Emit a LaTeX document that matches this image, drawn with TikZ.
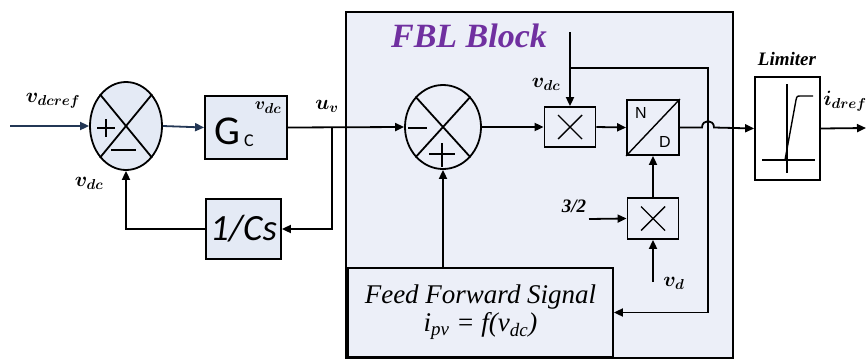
\documentclass[tikz,border=0pt]{standalone}
\usepackage{fontspec}
\usetikzlibrary{shapes.geometric,arrows.meta,calc}
\newfontfamily\libserif{Liberation Serif}
\newfontfamily\carl{Carlito}
\newfontfamily\arialf{Liberation Sans}
\definecolor{boxfill}{RGB}{228,234,245}
\definecolor{fblfill}{RGB}{236,239,248}
\definecolor{navy}{RGB}{35,55,85}
\definecolor{fblpurple}{RGB}{112,48,160}
\newcommand\mysub[1]{\mbox{\fontsize{15}{15}\selectfont\boldmath$#1$}}
\begin{document}
\begin{tikzpicture}[x=1pt,y=-1pt,
  ln/.style={line width=1.8pt},
  arr/.style={line width=1.8pt,-{Triangle[length=9pt,width=8pt]}},
  arrn/.style={arr,draw=navy,-{Triangle[length=9pt,width=8pt,fill=navy]}},
  blk/.style={draw,line width=1.8pt,fill=boxfill,inner sep=0pt},
  sumn/.style={ellipse,draw,line width=1.8pt,inner sep=0pt},
  lab/.style={font=\fontsize{21}{22}\selectfont\boldmath},
  sgn/.style={line width=1.8pt}
]
\useasboundingbox (0,0) rectangle (867,362);
\fill[white] (0,0) rectangle (867,362);
% FBL block
\node[draw,line width=1.8pt,fill=fblfill,minimum width=387pt,minimum height=346pt,inner sep=0pt] (fbl) at (539.5,185) {};
\node[text=fblpurple,font=\libserif\bfseries\itshape\fontsize{34}{36}\selectfont] (title) at (469,36) {FBL Block};
% summing junctions
\node[sumn,fill=boxfill,minimum width=72pt,minimum height=88pt] (s1) at (126,126) {};
\draw[ln] (s1.north east) -- (s1.south west) (s1.north west) -- (s1.south east);
\draw[sgn] (97,128) -- (115,128) (106,119) -- (106,137);
\draw[sgn] (111,150) -- (136,150);
\node[sumn,fill=fblfill,minimum width=76pt,minimum height=84pt] (s2) at (443,127) {};
\draw[ln] (s2.north east) -- (s2.south west) (s2.north west) -- (s2.south east);
\draw[sgn] (408,128) -- (427,128);
\draw[sgn] (429,154) -- (455,154) (442,143) -- (442,167);
% blocks
\node[blk,minimum width=82pt,minimum height=63pt] (gc) at (246,127.5) {};
\node[font=\carl\fontsize{41}{41}\selectfont] (gtxt) at (227,131) {G};
\node[font=\carl\fontsize{18}{18}\selectfont] (gsub) at (249,141) {C};
\node[font=\fontsize{19}{19}\selectfont\boldmath] (gsup) at (268,108) {$v_{\mbox{\fontsize{14}{14}\selectfont\boldmath$dc$}}$};
\node[blk,minimum width=75pt,minimum height=60pt,font=\carl\itshape\fontsize{37}{37}\selectfont] (cs) at (243.5,229) {1/Cs};
\node[draw,line width=1.8pt,fill=fblfill,minimum width=51pt,minimum height=40pt] (m1) at (570,127) {};
\draw[line width=1.4pt] ($(m1.center)+(-12,-12)$) -- ($(m1.center)+(12,12)$) ($(m1.center)+(-12,12)$) -- ($(m1.center)+(12,-12)$);
\node[draw,line width=1.8pt,fill=fblfill,minimum width=52pt,minimum height=55pt] (nd) at (653,127.5) {};
\draw[line width=1.4pt] (nd.south west) -- (nd.north east);
\node[font=\arialf\fontsize{16}{16}\selectfont] (ntx) at (641,113) {N};
\node[font=\arialf\fontsize{16}{16}\selectfont] (dtx) at (665,142) {D};
\node[draw,line width=1.8pt,fill=fblfill,minimum width=51pt,minimum height=41pt] (m2) at (653,218.5) {};
\draw[line width=1.4pt] ($(m2.center)+(-12,-12)$) -- ($(m2.center)+(12,12)$) ($(m2.center)+(-12,12)$) -- ($(m2.center)+(12,-12)$);
\node[draw,line width=1.8pt,fill=white,minimum width=65pt,minimum height=103pt] (lim) at (787.5,128.5) {};
\draw[line width=1.4pt] (787,84) -- (787,173) (762,160) -- (815,160);
\draw[line width=1.4pt] (785,160) -- (796,100) .. controls (797,96) .. (801,96) -- (813,96);
\node[font=\libserif\bfseries\itshape\fontsize{19}{19}\selectfont] (limt) at (787,59) {Limiter};
\node[blk,fill=fblfill,minimum width=265pt,minimum height=89pt,align=center,font=\libserif\itshape\fontsize{27}{29}\selectfont] (ff) at (480.5,312.5) {Feed Forward Signal\\[-1pt] i\textsubscript{\fontsize{19}{19}\selectfont pv} = f(v\textsubscript{\fontsize{19}{19}\selectfont dc})};
% labels
\node[lab] (lref) at (53,101) {$v_{\mysub{dcref}}$};
\node[lab] (lvdc1) at (89,183) {$v_{\mysub{dc}}$};
\node[lab] (luv) at (327,106) {$u_{\mysub{v}}$};
\node[lab] (lvdc2) at (546,84) {$v_{\mysub{dc}}$};
\node[lab] (lid) at (845,101) {$i_{\mysub{dref}}$};
\node[lab] (lvd) at (674,283) {$v_{\mysub{d}}$};
\node[font=\libserif\bfseries\itshape\fontsize{19}{19}\selectfont] (l32) at (574,206) {3/2};
% coordinates
\coordinate (inp) at (10,126);
\coordinate (tap) at (332,127.5);
\coordinate (vdctop) at (570,32);
\coordinate (br) at (570,68);
\coordinate (cr) at (708,312.5);
\coordinate (three) at (589,219);
\coordinate (vdb) at (653,282);
\coordinate (outp) at (866,128);
% connectors
\draw[arrn] (inp) -- (s1.west);
\draw[arrn] (s1.east) -- (gc.west);
\draw[arr] (gc.east) -- (s2.west);
\draw[arr] (tap) |- (cs.east);
\draw[arr] (cs.west) -| (s1.south);
\draw[arr] (s2.south |- ff.north) -- (s2.south);
\draw[arr] (s2.east) -- (m1.west);
\draw[arr] (vdctop) -- (m1.north);
\draw[arr] (br) -| (cr) -- (ff.east);
\draw[arr] (m1.east) -- (nd.west);
\draw[arr] (m2.north) -- (nd.south);
\draw[arr] (three) -- (m2.west);
\draw[arr] (vdb) -- (m2.south);
\draw[arr] (nd.east) -- (702,127.5) .. controls (702,119) and (714,119) .. (714,127.5) -- (lim.west);
\draw[arr] (lim.east) -- (outp);
\end{tikzpicture}
\end{document}
